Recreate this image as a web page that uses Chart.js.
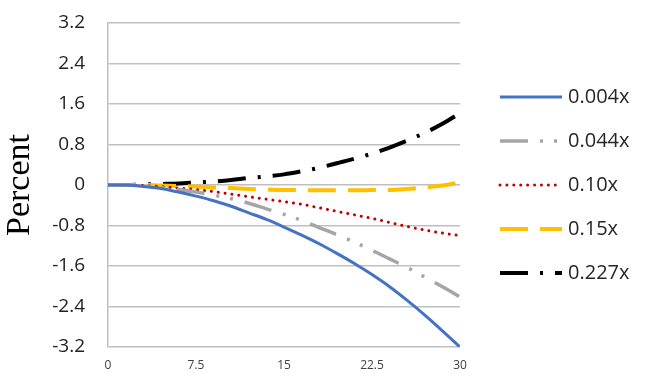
<!DOCTYPE html>
<html>
<head>
<meta charset="utf-8">
<script src="https://cdn.jsdelivr.net/npm/chart.js@4/dist/chart.umd.min.js"></script>
<style>
  html, body { margin: 0; padding: 0; background: #fff; }
  #wrap { width: 645px; height: 380px; }
</style>
</head>
<body>
<div id="wrap"><canvas id="c" width="645" height="380"></canvas></div>
<script>
const xValues = [0, 1.5, 3, 4.5, 6, 7.5, 9, 10.5, 12, 13.5, 15, 16.5, 18, 19.5, 21, 22.5, 24, 25.5, 27, 28.5, 30];
const seriesNames = ['0.004x', '0.044x', '0.10x', '0.15x', '0.227x'];
const s004 = [0, 0, -0.03, -0.07, -0.14, -0.22, -0.31, -0.42, -0.55, -0.68, -0.83, -0.99, -1.16, -1.35, -1.55, -1.77, -2.01, -2.28, -2.57, -2.88, -3.2];
const s044 = [0, 0, -0.02, -0.05, -0.09, -0.14, -0.20, -0.27, -0.36, -0.47, -0.58, -0.70, -0.84, -0.98, -1.13, -1.29, -1.46, -1.63, -1.82, -2.01, -2.21];
const s010 = [0, 0, -0.01, -0.03, -0.06, -0.09, -0.13, -0.18, -0.23, -0.28, -0.33, -0.38, -0.45, -0.52, -0.59, -0.66, -0.74, -0.82, -0.89, -0.95, -1.0];
const s015 = [0, 0, 0, -0.01, -0.02, -0.03, -0.05, -0.06, -0.08, -0.09, -0.10, -0.10, -0.105, -0.105, -0.105, -0.10, -0.10, -0.08, -0.05, -0.01, 0.05];
const s227 = [0, 0, 0.01, 0.02, 0.03, 0.05, 0.07, 0.10, 0.14, 0.17, 0.21, 0.27, 0.34, 0.43, 0.52, 0.62, 0.74, 0.88, 1.03, 1.21, 1.42];
const yTickValues = [-3.2, -2.4, -1.6, -0.8, 0, 0.8, 1.6, 2.4, 3.2];
const xTickValues = [0, 7.5, 15, 22.5, 30];
const yTitle = 'Percent';

const seriesValues = [s004, s044, s010, s015, s227];
const styles = [
  { color: '#4472C4', width: 3, dash: [], cap: 'butt' },
  { color: '#A5A5A5', width: 3.5, dash: [28, 12, 3, 11, 3, 12], cap: 'butt' },
  { color: '#C00000', width: 3, dash: [0.01, 6.9], cap: 'round' },
  { color: '#FFC000', width: 4, dash: [28, 12], cap: 'butt' },
  { color: '#000000', width: 4, dash: [28, 12, 3, 12], cap: 'butt' }
];

const datasets = seriesNames.map((name, i) => ({
  label: name,
  data: xValues.map((x, j) => ({ x: x, y: seriesValues[i][j] })),
  borderColor: styles[i].color,
  backgroundColor: styles[i].color,
  borderWidth: styles[i].width,
  borderDash: styles[i].dash,
  borderCapStyle: styles[i].cap,
  pointRadius: 0,
  pointHoverRadius: 0,
  cubicInterpolationMode: 'monotone',
  fill: false
}));

// Legend drawn at the right of the plot, one row per dataset
const sideLegend = {
  id: 'sideLegend',
  afterDraw(chart) {
    const ctx = chart.ctx;
    const area = chart.chartArea;
    const x0 = area.right + 40;
    const lineLen = 62;
    const midY = (area.top + area.bottom) / 2;
    const step = 44;
    const n = chart.data.datasets.length;
    chart.data.datasets.forEach((ds, i) => {
      const y = midY + (i - (n - 1) / 2) * step;
      ctx.save();
      ctx.strokeStyle = ds.borderColor;
      ctx.lineWidth = ds.borderWidth;
      ctx.lineCap = ds.borderCapStyle;
      ctx.setLineDash(ds.borderDash);
      ctx.beginPath();
      ctx.moveTo(x0, y);
      ctx.lineTo(x0 + lineLen, y);
      ctx.stroke();
      ctx.setLineDash([]);
      ctx.fillStyle = '#262626';
      ctx.font = '20px "Open Sans"';
      ctx.textBaseline = 'middle';
      ctx.textAlign = 'left';
      ctx.fillText(ds.label, x0 + lineLen + 6, y);
      ctx.restore();
    });
  }
};

new Chart(document.getElementById('c'), {
  type: 'line',
  data: { datasets: datasets },
  plugins: [sideLegend],
  options: {
    responsive: false,
    animation: false,
    events: [],
    layout: { padding: { top: 23, left: 0, right: 185, bottom: 0 } },
    plugins: {
      tooltip: { enabled: false },
      legend: { display: false }
    },
    scales: {
      x: {
        type: 'linear',
        min: 0,
        max: 30,
        afterBuildTicks: (scale) => { scale.ticks = xTickValues.map(v => ({ value: v })); },
        afterFit: (scale) => { scale.height = 33; },
        grid: { display: false, drawTicks: false },
        border: { display: false },
        ticks: {
          padding: 11,
          color: '#404040',
          font: { family: 'Open Sans', size: 12 },
          maxRotation: 0,
          callback: (v) => String(v)
        }
      },
      y: {
        min: -3.2,
        max: 3.2,
        afterBuildTicks: (scale) => { scale.ticks = yTickValues.map(v => ({ value: v })); },
        afterFit: (scale) => { scale.width = 108; scale.paddingTop = 0; scale.paddingBottom = 0; },
        grid: { color: '#BFBFBF', lineWidth: 1.5, drawTicks: false },
        border: { display: true, color: '#BFBFBF', width: 1.5 },
        ticks: {
          padding: 23,
          color: '#222222',
          font: { family: 'Open Sans', size: 19 },
          callback: (v) => String(Number(v.toFixed(1)))
        },
        title: {
          display: true,
          text: yTitle,
          color: '#000000',
          font: { family: 'Liberation Serif', size: 34 },
          padding: { top: 0, bottom: 0 }
        }
      }
    }
  }
});
</script>
</body>
</html>
